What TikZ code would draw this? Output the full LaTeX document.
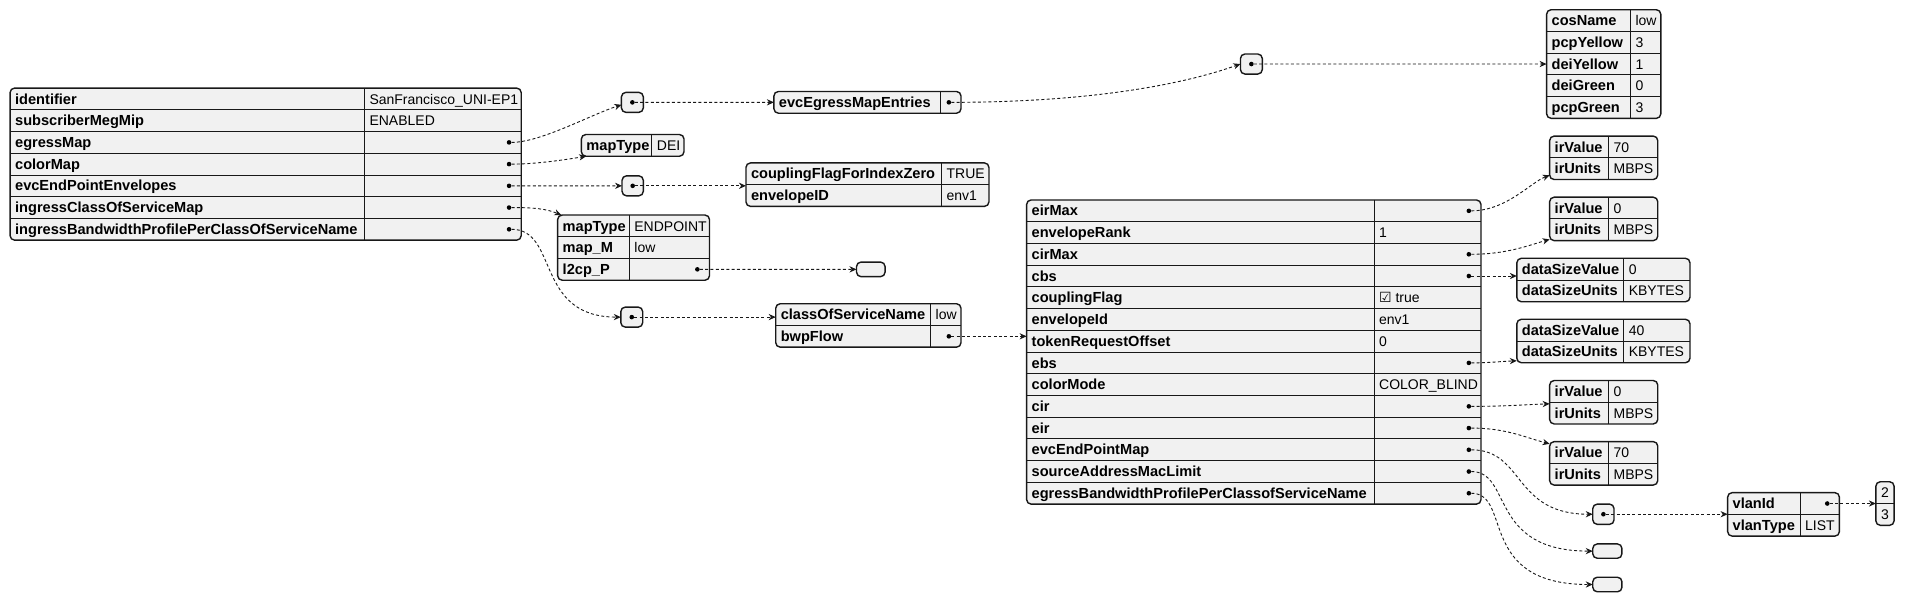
\documentclass[tikz,border=0pt]{standalone}
\usepackage{fontspec}
\setmainfont{Liberation Sans}
\newfontfamily\symf{DejaVu Sans}
\usetikzlibrary{arrows.meta,fit,calc}
\definecolor{tfill}{HTML}{F1F1F1}
\definecolor{tline}{HTML}{181818}
\def\rh{17.88}
\tikzset{
 tblbox/.style={draw=tline, fill=tfill, line width=1.4pt, rounded corners=4.5pt, inner sep=0pt, outer sep=0pt},
 sepl/.style={draw=tline, line width=0.9pt},
 keyt/.style={anchor=base west, inner sep=0pt, font=\fontsize{14.6}{16}\selectfont\bfseries, text=black},
 valt/.style={anchor=base west, inner sep=0pt, font=\fontsize{14}{16}\selectfont, text=black},
 dotc/.style={circle, fill=black, inner sep=0pt, minimum size=4.6pt},
 conn/.style={draw=tline, line width=0.9pt, dash pattern=on 3pt off 2.3pt, -{Stealth[length=7pt,width=6.2pt,inset=2.2pt]}},
}
% name, x0, y0, xdiv, x1, nrows, rows
\newcommand\jtab[7]{%
  \pgfmathsetmacro\jyb{#3+#6*\rh}%
  \node[tblbox, fit={(#2,#3) (#5,\jyb)}] (#1) {};
  \draw[sepl] (#4,#3) -- (#4,\jyb);
  \foreach \k/\v [count=\i] in {#7} {
    \pgfmathsetmacro\jyc{#3+(\i-0.5)*\rh+4.2}
    \ifnum\i>1 \pgfmathsetmacro\jys{#3+(\i-1)*\rh}\draw[sepl] (#2,\jys) -- (#5,\jys); \fi
    \node[keyt] (#1-k\i) at ({#2+4},\jyc) {\k};
    \node[valt] (#1-v\i) at ({#4+4},\jyc) {\v};
  }
}
% name, x, y0, row
\newcommand\jdot[4]{\pgfmathsetmacro\jyd{#3+(#4-0.5)*\rh}\node[dotc] (#1) at (#2,\jyd) {};}
\begin{document}
\begin{tikzpicture}[x=1.215pt,y=-1.215pt]
\useasboundingbox (0,0) rectangle (1568,496);

% main table
\jtab{A}{8.3}{72.5}{300}{429}{7}{identifier/SanFrancisco\_UNI-EP1, subscriberMegMip/ENABLED, egressMap/{}, colorMap/{}, evcEndPointEnvelopes/{}, ingressClassOfServiceMap/{}, ingressBandwidthProfilePerClassOfServiceName/{}}
\jdot{A-d3}{419}{72.5}{3}
\jdot{A-d4}{419}{72.5}{4}
\jdot{A-d5}{419}{72.5}{5}
\jdot{A-d6}{419}{72.5}{6}
\jdot{A-d7}{419}{72.5}{7}

% egressMap branch
\node[tblbox, fit={(511.5,76) (529.5,92.5)}] (B) {};
\node[dotc] (B-d) at (B.center) {};
\jtab{I}{637}{75.3}{774}{791}{1}{evcEgressMapEntries/{}}
\jdot{I-d1}{781}{75.3}{1}
\node[tblbox, fit={(1021,44.45) (1039,60.95)}] (J) {};
\node[dotc] (J-d) at (J.center) {};
\jtab{K}{1273}{8}{1342}{1367}{5}{cosName/low, pcpYellow/3, deiYellow/1, deiGreen/0, pcpGreen/3}

% colorMap
\jtab{C}{478.5}{110.7}{536.6}{563}{1}{mapType/DEI}

% envelopes
\node[tblbox, fit={(512,144.7) (529.5,161.2)}] (D) {};
\node[dotc] (D-d) at (D.center) {};
\jtab{L}{614}{134.1}{775}{814}{2}{couplingFlagForIndexZero/TRUE, envelopeID/env1}

% ingress class of service map
\jtab{E}{459}{177}{518}{584}{3}{mapType/ENDPOINT, map\_M/low, l2cp\_P/{}}
\jdot{E-d3}{574}{177}{3}
\node[tblbox, fit={(705,215.7) (728.5,227.7)}] (F) {};

% ingress bandwidth profile
\node[tblbox, fit={(511,252.75) (529,269.25)}] (G) {};
\node[dotc] (G-d) at (G.center) {};
\jtab{H}{638.5}{250}{766}{791}{2}{classOfServiceName/low, bwpFlow/{}}
\jdot{H-d2}{781}{250}{2}

\jtab{M}{845}{164.6}{1131}{1219}{14}{eirMax/{}, envelopeRank/1, cirMax/{}, cbs/{}, couplingFlag/{{\symf ☑} true}, envelopeId/env1, tokenRequestOffset/0, ebs/{}, colorMode/COLOR\_BLIND, cir/{}, eir/{}, evcEndPointMap/{}, sourceAddressMacLimit/{}, egressBandwidthProfilePerClassofServiceName/{}}
\foreach \r in {1,3,4,8,10,11,12,13,14} {\jdot{M-d\r}{1209}{164.6}{\r}}

\jtab{N1}{1275.5}{112}{1324}{1364.5}{2}{irValue/70, irUnits/MBPS}
\jtab{N2}{1275.5}{162.3}{1324}{1364.5}{2}{irValue/0, irUnits/MBPS}
\jtab{N3}{1248.5}{212.6}{1336.5}{1391}{2}{dataSizeValue/0, dataSizeUnits/KBYTES}
\jtab{N4}{1248.5}{262.8}{1336.5}{1391}{2}{dataSizeValue/40, dataSizeUnits/KBYTES}
\jtab{N5}{1275.5}{313.2}{1324}{1364.5}{2}{irValue/0, irUnits/MBPS}
\jtab{N6}{1275.5}{363.5}{1324}{1364.5}{2}{irValue/70, irUnits/MBPS}

\node[tblbox, fit={(1311,414.9) (1328.5,431.6)}] (O) {};
\node[dotc] (O-d) at (O.center) {};
\jtab{P}{1422}{405.5}{1481.6}{1514}{2}{vlanId/{}, vlanType/LIST}
\jdot{P-d1}{1504}{405.5}{1}
\node[tblbox, fit={(1544,396.5) (1559,432.4)}] (Q) {};
\draw[sepl] (Q.west) -- (Q.east);
\node[valt, anchor=base] (Q-1) at (1551.5,409.6) {2};
\node[valt, anchor=base] (Q-2) at (1551.5,427.5) {3};
\node[tblbox, fit={(1311,447.7) (1335,459.5)}] (R) {};
\node[tblbox, fit={(1311,475.1) (1335,487.1)}] (S) {};

% connectors
\draw[conn] (A-d3) .. controls (445,117.2) and (485,95) .. ($(B.west)+(0,2)$);
\draw[conn] (A-d4) .. controls (440,135.1) and (462,132) .. ($(C.south west)+(4,0)$);
\draw[conn] (A-d5) -- (D.west);
\draw[conn] (A-d6) .. controls (440,170.8) and (450,172) .. ($(E.north west)+(3,0)$);
\draw[conn] (A-d7) .. controls (460,188.7) and (440,261) .. (G.west);
\draw[conn] (B-d) -- (I.west);
\draw[conn] (I-d1) .. controls (930,84.2) and (1000,60) .. (J.west);
\draw[conn] (J-d) -- (K.west);
\draw[conn] (D-d) -- (L.west |- D-d);
\draw[conn] (E-d3) -- (F.west);
\draw[conn] (G-d) -- (H.west |- G-d);
\draw[conn] (H-d2) -- (M.west |- H-d2);
\draw[conn] (M-d1) .. controls (1240,173.5) and (1260,150) .. ($(N1.south west)+(0,-3.5)$);
\draw[conn] (M-d3) .. controls (1240,209.3) and (1258,202) .. ($(N2.south west)+(0,-1)$);
\draw[conn] (M-d4) -- (N3.west |- M-d4);
\draw[conn] (M-d8) .. controls (1225,298.7) and (1235,297.5) .. ($(N4.south west)+(0,-1.6)$);
\draw[conn] (M-d10) .. controls (1240,334.5) and (1255,333) .. ($(N5.west)+(0,1.3)$);
\draw[conn] (M-d11) .. controls (1240,352.4) and (1255,360) .. ($(N6.north west)+(0,1.8)$);
\draw[conn] (M-d12) .. controls (1255,370.3) and (1245,423.25) .. (O.west);
\draw[conn] (M-d13) .. controls (1245,388.2) and (1225,453.6) .. (R.west);
\draw[conn] (M-d14) .. controls (1245,406.1) and (1215,481.1) .. (S.west);
\draw[conn] (O-d) -- (P.west |- O-d);
\draw[conn] (P-d1) -- (Q.west |- P-d1);
\end{tikzpicture}
\end{document}
